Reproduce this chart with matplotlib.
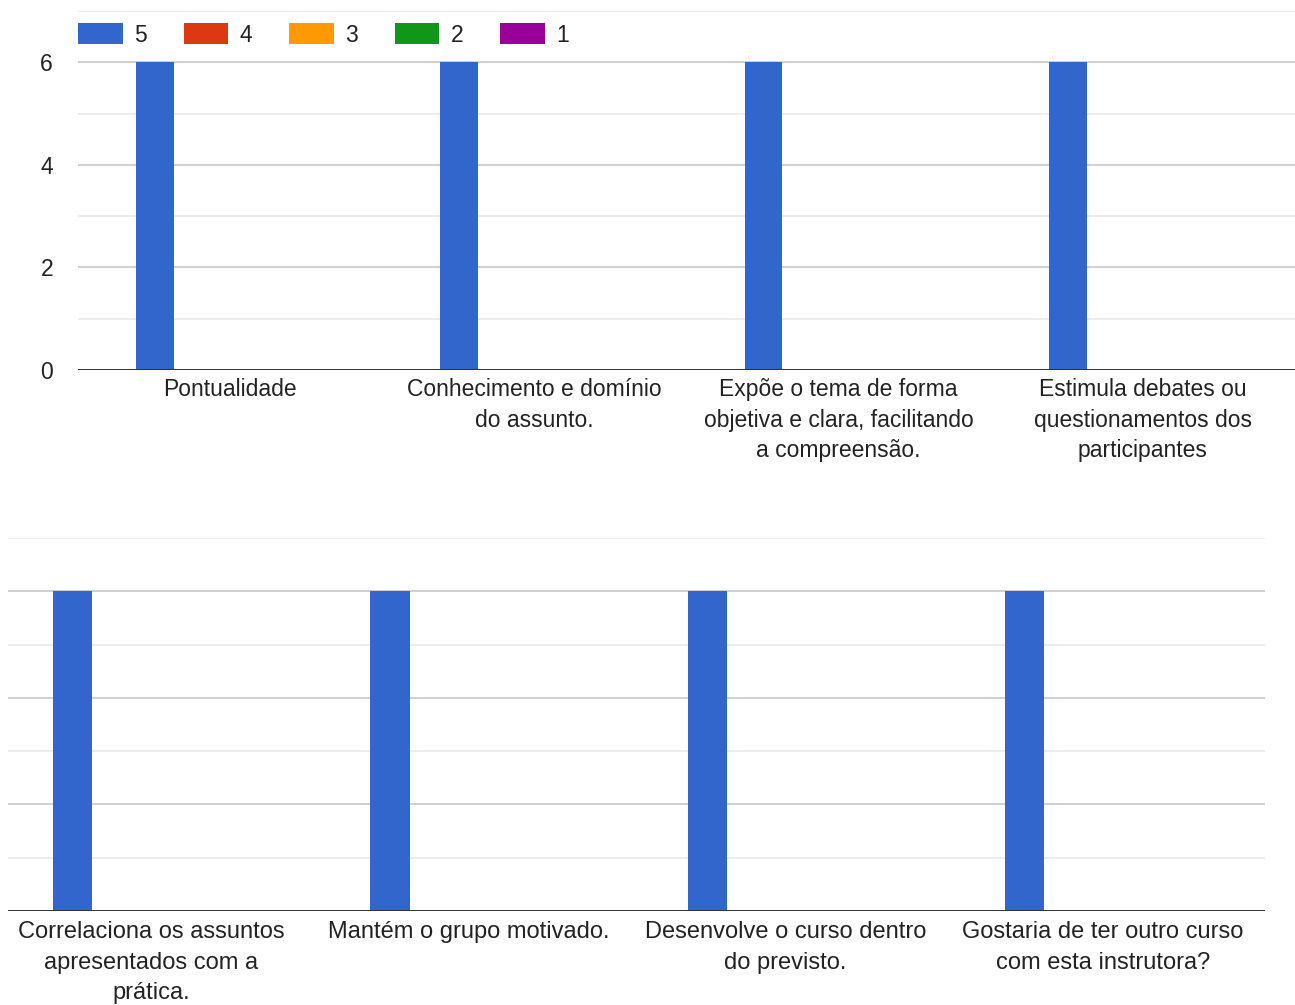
import matplotlib
matplotlib.use("Agg")
import matplotlib.pyplot as plt
from matplotlib.patches import Patch
import numpy as np

plt.rcParams['font.family'] = ['Liberation Sans', 'DejaVu Sans']

# ---- data ----
series_names = ["5", "4", "3", "2", "1"]
series_colors = ["#3366cc", "#dc3912", "#ff9900", "#109618", "#990099"]

top_categories = [
    "Pontualidade",
    "Conhecimento e domínio\ndo assunto.",
    "Expõe o tema de forma\nobjetiva e clara, facilitando\na compreensão.",
    "Estimula debates ou\nquestionamentos dos\nparticipantes",
]
top_values = {
    "5": [6, 6, 6, 6],
    "4": [0, 0, 0, 0],
    "3": [0, 0, 0, 0],
    "2": [0, 0, 0, 0],
    "1": [0, 0, 0, 0],
}

bottom_categories = [
    "Correlaciona os assuntos\napresentados com a\nprática.",
    "Mantém o grupo motivado.",
    "Desenvolve o curso dentro\ndo previsto.",
    "Gostaria de ter outro curso\ncom esta instrutora?",
]
bottom_values = {
    "5": [6, 6, 6, 6],
    "4": [0, 0, 0, 0],
    "3": [0, 0, 0, 0],
    "2": [0, 0, 0, 0],
    "1": [0, 0, 0, 0],
}

y_ticks = [0, 2, 4, 6]

W, H = 1295, 1005
fig = plt.figure(figsize=(W / 100, H / 100), dpi=100)

TXT = "#222222"
bw = 0.1235


def px_axes(x0, x1, ytop, ybot):
    return fig.add_axes([x0 / W, 1 - ybot / H, (x1 - x0) / W, (ybot - ytop) / H])


def draw(ax, cats, vals, xlim, show_y, fs, ls, pad):
    x = np.arange(len(cats))
    n = len(series_names)
    for k, (name, col) in enumerate(zip(series_names, series_colors)):
        off = (k - (n - 1) / 2) * bw
        ax.bar(x + off, vals[name], width=bw, color=col, linewidth=0, zorder=3)
    ax.set_xlim(*xlim)
    ax.set_ylim(0, 7)
    for v in range(1, 8):
        ax.axhline(v, color="#cccccc" if v % 2 == 0 else "#ebebeb", lw=1.3, zorder=1)
    ax.axhline(0, color="#333333", lw=1.4, zorder=4)
    for s in ax.spines.values():
        s.set_visible(False)
    ax.set_xticks(x)
    ax.set_xticklabels(cats, fontsize=fs, color=TXT, linespacing=ls, va="top")
    ax.tick_params(axis="x", length=0, pad=pad)
    if show_y:
        ax.set_yticks(y_ticks)
        ax.set_yticklabels([str(t) for t in y_ticks], fontsize=fs, color=TXT)
        ax.tick_params(axis="y", length=0, pad=18)
    else:
        ax.set_yticks([])


ax1 = px_axes(78, 1295, 11, 370)
draw(ax1, top_categories, top_values, (-0.5, 3.5), True, 16.5, 1.42, 6)

ax2 = px_axes(8, 1265, 538, 911)
draw(ax2, bottom_categories, bottom_values, (-0.4507, 3.511), False, 17, 1.52, 7)

handles = [Patch(facecolor=c, edgecolor="none") for c in series_colors]
fig.legend(handles, series_names, loc="center left",
           bbox_to_anchor=(78 / W, 1 - 35 / H), ncol=5, frameon=False,
           fontsize=16.5, handlelength=1.95, handleheight=1.0,
           handletextpad=0.5, columnspacing=1.6, borderpad=0,
           borderaxespad=0, labelcolor=TXT)

fig.savefig("out.png", dpi=100, facecolor="white")
